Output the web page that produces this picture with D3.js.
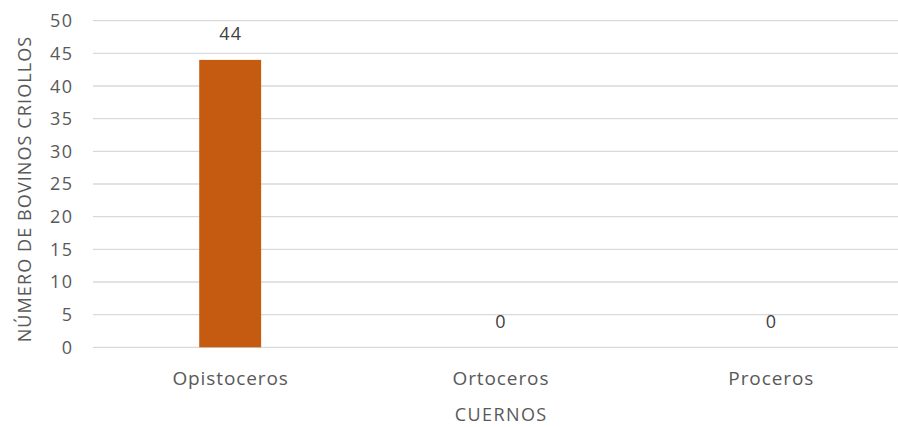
<!DOCTYPE html>
<html>
<head>
<meta charset="utf-8">
<script src="https://cdn.jsdelivr.net/npm/d3@7"></script>
<style>
  html, body { margin: 0; padding: 0; background: #fff; }
  svg { display: block; }
  text { font-family: "Open Sans", "Liberation Sans", sans-serif; fill: #595959; }
</style>
</head>
<body>
<svg id="chart" width="898" height="427"></svg>
<script>
const categories = ["Opistoceros", "Ortoceros", "Proceros"];
const values = [44, 0, 0];
const yTicks = [0, 5, 10, 15, 20, 25, 30, 35, 40, 45, 50];
const xTitle = "CUERNOS";
const yTitle = "NÚMERO DE BOVINOS CRIOLLOS";

const svg = d3.select("#chart");
const W = 898, H = 427;
const margin = { left: 95, right: -8, top: 21, bottom: 80 };

const x = d3.scaleBand()
  .domain(categories)
  .range([margin.left, W - margin.right])
  .paddingInner(0.771)
  .paddingOuter(0.3855);

const y = d3.scaleLinear()
  .domain([0, 50])
  .range([347.3, 20.7]);

// gridlines
svg.append("g")
  .selectAll("line")
  .data(yTicks)
  .join("line")
  .attr("x1", 93)
  .attr("x2", W)
  .attr("y1", d => y(d))
  .attr("y2", d => y(d))
  .attr("stroke", "#d9d9d9")
  .attr("stroke-width", 1.3);

// y tick labels
svg.append("g")
  .selectAll("text")
  .data(yTicks)
  .join("text")
  .attr("x", 73.5)
  .attr("y", d => y(d))
  .attr("dy", "0.36em")
  .attr("text-anchor", "end")
  .style("font-size", "18px")
  .style("letter-spacing", "1.5px")
  .text(d => d);

// bars
svg.append("g")
  .selectAll("rect")
  .data(categories.map((c, i) => ({ c, v: values[i] })))
  .join("rect")
  .attr("x", d => x(d.c))
  .attr("width", x.bandwidth())
  .attr("y", d => y(d.v))
  .attr("height", d => y(0) - y(d.v))
  .attr("fill", "#c55a11");

// value labels
svg.append("g")
  .selectAll("text")
  .data(categories.map((c, i) => ({ c, v: values[i] })))
  .join("text")
  .attr("x", d => x(d.c) + x.bandwidth() / 2 + 0.6)
  .attr("y", d => y(d.v) - 19.5)
  .attr("text-anchor", "middle")
  .style("font-size", "18px")
  .style("letter-spacing", "1.2px")
  .style("fill", "#404040")
  .text(d => d.v);

// category labels
svg.append("g")
  .selectAll("text")
  .data(categories)
  .join("text")
  .attr("x", d => x(d) + x.bandwidth() / 2 + 0.45)
  .attr("y", 385)
  .attr("text-anchor", "middle")
  .style("font-size", "19px")
  .style("letter-spacing", "0.9px")
  .text(d => d);

// x title
svg.append("text")
  .attr("x", (x(categories[1]) + x.bandwidth() / 2) + 0.7)
  .attr("y", 421)
  .attr("text-anchor", "middle")
  .style("font-size", "18px")
  .style("letter-spacing", "1.4px")
  .text(xTitle);

// y title
svg.append("text")
  .attr("transform", `translate(31, 189) rotate(-90)`)
  .attr("text-anchor", "middle")
  .style("font-size", "18px")
  .style("letter-spacing", "1.1px")
  .text(yTitle);
</script>
</body>
</html>
